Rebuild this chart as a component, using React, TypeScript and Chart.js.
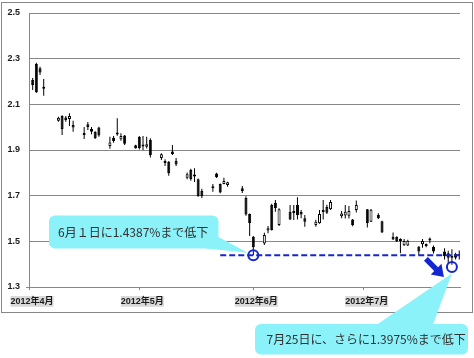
import React, { useEffect, useRef } from 'react';
import { Chart, registerables } from 'chart.js';

Chart.register(...registerables);

// ---- data ----
const DATES = [
  '4/2', '4/3', '4/4', '4/5',
  '4/9', '4/10', '4/11', '4/12', '4/13',
  '4/16', '4/17', '4/18', '4/19', '4/20',
  '4/23', '4/24', '4/25', '4/26', '4/27',
  '4/30', '5/1', '5/2', '5/3', '5/4',
  '5/7', '5/8', '5/9', '5/10', '5/11',
  '5/14', '5/15', '5/16', '5/17', '5/18',
  '5/21', '5/22', '5/23', '5/24', '5/25',
  '5/29', '5/30', '5/31', '6/1',
  '6/4', '6/5', '6/6', '6/7', '6/8',
  '6/11', '6/12', '6/13', '6/14', '6/15',
  '6/18', '6/19', '6/20', '6/21', '6/22',
  '6/25', '6/26', '6/27', '6/28', '6/29',
  '7/2', '7/3', '7/5', '7/6',
  '7/9', '7/10', '7/11', '7/12', '7/13',
  '7/16', '7/17', '7/18', '7/19', '7/20',
  '7/23', '7/24', '7/25', '7/26', '7/27',
];
const OPEN = [
  2.207, 2.277, 2.258, 2.172,
  2.028, 2.049, 2.042, 2.036, 2.009,
  1.974, 2.013, 1.992, 1.980, 1.998,
  1.918, 1.954, 1.973, 1.947, 1.964,
  1.921, 1.957, 1.920, 1.914, 1.944,
  1.865, 1.850, 1.849, 1.893, 1.853,
  1.779, 1.812, 1.790, 1.772, 1.720,
  1.732, 1.797, 1.751, 1.751, 1.747,
  1.732, 1.690, 1.620, 1.520,
  1.491, 1.547, 1.659, 1.669, 1.572,
  1.630, 1.627, 1.659, 1.628, 1.601,
  1.572, 1.579, 1.633, 1.650, 1.640,
  1.610, 1.613, 1.612, 1.596, 1.637,
  1.640, 1.586, 1.615, 1.588,
  1.520, 1.520, 1.508, 1.483, 1.482,
  1.477, 1.487, 1.486, 1.507, 1.475,
  1.455, 1.448, 1.434, 1.445, 1.440,
];
const HIGH = [
  2.215, 2.282, 2.265, 2.211,
  2.046, 2.052, 2.049, 2.061, 2.028,
  2.001, 2.023, 2.001, 1.982, 2.002,
  1.958, 1.961, 2.039, 1.973, 1.966,
  1.923, 1.961, 1.961, 1.958, 1.951,
  1.886, 1.859, 1.852, 1.922, 1.865,
  1.801, 1.818, 1.820, 1.775, 1.730,
  1.751, 1.800, 1.753, 1.779, 1.761,
  1.742, 1.697, 1.622, 1.523,
  1.538, 1.567, 1.665, 1.681, 1.645,
  1.659, 1.659, 1.693, 1.637, 1.615,
  1.595, 1.637, 1.681, 1.660, 1.681,
  1.633, 1.659, 1.655, 1.598, 1.679,
  1.642, 1.642, 1.623, 1.590,
  1.539, 1.522, 1.513, 1.510, 1.507,
  1.479, 1.510, 1.490, 1.517, 1.482,
  1.470, 1.459, 1.465, 1.450, 1.460,
];
const LOW = [
  2.163, 2.150, 2.228, 2.138,
  2.024, 1.966, 2.024, 2.005, 1.980,
  1.948, 1.988, 1.969, 1.948, 1.958,
  1.906, 1.932, 1.962, 1.941, 1.922,
  1.906, 1.902, 1.900, 1.907, 1.867,
  1.856, 1.830, 1.787, 1.878, 1.830,
  1.772, 1.765, 1.760, 1.695, 1.690,
  1.717, 1.777, 1.711, 1.750, 1.739,
  1.712, 1.612, 1.523, 1.4387,
  1.484, 1.535, 1.547, 1.630, 1.567,
  1.593, 1.593, 1.596, 1.601, 1.564,
  1.564, 1.577, 1.596, 1.620, 1.637,
  1.601, 1.600, 1.600, 1.566, 1.626,
  1.561, 1.585, 1.598, 1.537,
  1.506, 1.497, 1.448, 1.480, 1.480,
  1.440, 1.472, 1.474, 1.492, 1.447,
  1.420, 1.405, 1.3975, 1.420, 1.420,
];
const CLOSE = [
  2.185, 2.154, 2.239, 2.168,
  2.041, 1.992, 2.031, 2.049, 1.998,
  1.966, 2.001, 1.980, 1.951, 1.963,
  1.933, 1.939, 1.968, 1.961, 1.927,
  1.908, 1.909, 1.915, 1.925, 1.878,
  1.881, 1.843, 1.798, 1.882, 1.836,
  1.794, 1.773, 1.784, 1.697, 1.697,
  1.739, 1.781, 1.714, 1.764, 1.759,
  1.720, 1.617, 1.580, 1.474,
  1.528, 1.557, 1.550, 1.645, 1.640,
  1.596, 1.624, 1.615, 1.618, 1.586,
  1.586, 1.620, 1.628, 1.625, 1.672,
  1.622, 1.630, 1.633, 1.570, 1.659,
  1.580, 1.638, 1.601, 1.539,
  1.508, 1.499, 1.502, 1.501, 1.503,
  1.455, 1.501, 1.480, 1.504, 1.456,
  1.436, 1.428, 1.428, 1.428, 1.436,
];

const X_TICK_DAYS = [0, 30, 61, 91];
const X_TICK_LABELS = ['2012年4月', '2012年5月', '2012年6月', '2012年7月'];
const X_MIN = 0;
const X_MAX = 117.2;
const Y_MIN = 1.3;
const Y_MAX = 2.5;
const Y_STEP = 0.2;

const LOW_LINE_VALUE = 1.4387;
const LOW_LINE_FROM_DAY = 52;
const MARK_DATES = ['6/1', '7/25'];
const MARK_VALUES = [1.4387, 1.388];
const NOTE1 = '6月１日に1.4387%まで低下';
const NOTE2 = '7月25日に、さらに1.3975%まで低下';

// ---- helpers ----
const dayIndex = (s: string) => {
  const [m, d] = s.split('/').map(Number);
  return (Date.UTC(2012, m - 1, d) - Date.UTC(2012, 3, 1)) / 86400000;
};

const BLUE = '#1426d0';
const CYAN = '#8cf2fa';
const GRAY = '#878787';
const TICK_FONT = { size: 9, weight: 'bold' as const, family: '"Liberation Sans", "Noto Sans CJK JP", sans-serif' };

function roundRectPath(c: CanvasRenderingContext2D, x: number, y: number, w: number, h: number, r: number) {
  c.moveTo(x + r, y);
  c.lineTo(x + w - r, y);
  c.arcTo(x + w, y, x + w, y + r, r);
  c.lineTo(x + w, y + h - r);
  c.arcTo(x + w, y + h, x + w - r, y + h, r);
  c.lineTo(x + r, y + h);
  c.arcTo(x, y + h, x, y + h - r, r);
  c.lineTo(x, y + r);
  c.arcTo(x, y, x + r, y, r);
  c.closePath();
}

function drawCallout(
  c: CanvasRenderingContext2D,
  box: { x: number; y: number; w: number; h: number },
  tail: number[][],
  text: string,
  textX: number
) {
  c.save();
  c.fillStyle = CYAN;
  c.beginPath();
  roundRectPath(c, box.x, box.y, box.w, box.h, 6);
  c.fill();
  c.beginPath();
  c.moveTo(tail[0][0], tail[0][1]);
  c.lineTo(tail[1][0], tail[1][1]);
  c.lineTo(tail[2][0], tail[2][1]);
  c.closePath();
  c.fill();
  c.fillStyle = '#303030';
  c.font = '12px "Noto Sans CJK JP", sans-serif';
  c.textBaseline = 'middle';
  c.textAlign = 'left';
  c.fillText(text, textX, box.y + box.h / 2 + 0.5);
  c.restore();
}

function drawArrow(c: CanvasRenderingContext2D, x1: number, y1: number, x2: number, y2: number) {
  const ang = Math.atan2(y2 - y1, x2 - x1);
  const len = Math.hypot(x2 - x1, y2 - y1);
  const headLen = 11;
  const headW = 15;
  const shaftW = 5.5;
  c.save();
  c.translate(x1, y1);
  c.rotate(ang);
  c.beginPath();
  c.moveTo(0, -shaftW / 2);
  c.lineTo(len - headLen, -shaftW / 2);
  c.lineTo(len - headLen, -headW / 2);
  c.lineTo(len, 0);
  c.lineTo(len - headLen, headW / 2);
  c.lineTo(len - headLen, shaftW / 2);
  c.lineTo(0, shaftW / 2);
  c.closePath();
  c.fillStyle = BLUE;
  c.fill();
  c.restore();
}

const overlayPlugin = {
  id: 'overlay',
  beforeDraw(chart: any) {
    const c = chart.ctx as CanvasRenderingContext2D;
    c.save();
    c.fillStyle = '#ffffff';
    c.fillRect(0, 0, chart.width, chart.height);
    c.strokeStyle = GRAY;
    c.lineWidth = 1;
    c.strokeRect(1.5, 2.5, 471, 310);
    c.restore();
  },
  afterDraw(chart: any) {
    const c = chart.ctx as CanvasRenderingContext2D;
    const pts = chart.getDatasetMeta(3).data;
    const p1 = pts[0];
    const p2 = pts[1];
    drawCallout(c, { x: 49, y: 215.5, w: 169.5, h: 33 }, [[206, 248.5], [218.5, 237], [p1.x - 5.5, p1.y - 2.5]], NOTE1, 58);
    drawCallout(c, { x: 255, y: 324, w: 213, h: 30.5 }, [[377, 324.5], [433, 324.5], [p2.x, p2.y + 6.5]], NOTE2, 266.5);
    drawArrow(c, p2.x - 26, p2.y - 8, p2.x - 8, p2.y + 10);
  },
};

export default function App() {
  const ref = useRef<HTMLCanvasElement>(null);

  useEffect(() => {
    document.body.style.margin = '0';
    const xs = DATES.map(dayIndex);
    const chart = new Chart(ref.current as HTMLCanvasElement, {
      type: 'bar',
      data: {
        datasets: [
          {
            type: 'bar',
            label: 'wick',
            data: xs.map((x, i) => ({ x, y: [LOW[i], HIGH[i]] })) as any,
            backgroundColor: '#000000',
            borderWidth: 0,
            barThickness: 1,
            grouped: false,
            inflateAmount: 0,
            order: 3,
          } as any,
          {
            type: 'bar',
            label: 'body',
            data: xs.map((x, i) => ({ x, y: [OPEN[i], CLOSE[i]] })) as any,
            backgroundColor: OPEN.map((o, i) => (CLOSE[i] > o ? '#ffffff' : '#000000')),
            borderColor: '#000000',
            borderWidth: 1,
            borderSkipped: false,
            barThickness: 3,
            minBarLength: 2,
            grouped: false,
            inflateAmount: 0,
            order: 2,
          } as any,
          {
            type: 'line',
            label: 'low line',
            data: [
              { x: LOW_LINE_FROM_DAY, y: LOW_LINE_VALUE },
              { x: X_MAX, y: LOW_LINE_VALUE },
            ],
            borderColor: BLUE,
            borderWidth: 2,
            borderDash: [6, 3],
            pointRadius: 0,
            order: 1,
          } as any,
          {
            type: 'line',
            label: 'marks',
            data: MARK_DATES.map((d, i) => ({ x: dayIndex(d), y: MARK_VALUES[i] })),
            showLine: false,
            pointStyle: 'circle',
            pointRadius: 5,
            pointBorderWidth: 2,
            pointBorderColor: BLUE,
            pointBackgroundColor: 'rgba(0,0,0,0)',
            clip: false,
            order: 0,
          } as any,
        ],
      },
      options: {
        responsive: false,
        devicePixelRatio: 1,
        animation: false,
        events: [],
        layout: { padding: { left: 0, top: 13, right: 14, bottom: 0 } },
        plugins: {
          legend: { display: false },
          tooltip: { enabled: false },
          title: { display: false },
        },
        scales: {
          x: {
            type: 'linear',
            position: 'bottom',
            min: X_MIN,
            max: X_MAX,
            offset: false,
            grid: {
              display: true,
              drawOnChartArea: false,
              drawTicks: true,
              tickLength: 3,
              color: GRAY,
              offset: false,
            },
            border: { display: true, color: GRAY, width: 1 },
            afterBuildTicks: (s: any) => {
              s.ticks = X_TICK_DAYS.map((v) => ({ value: v }));
            },
            afterFit: (s: any) => {
              s.height = 71;
            },
            ticks: {
              autoSkip: false,
              maxRotation: 0,
              minRotation: 0,
              padding: 6,
              labelOffset: 3,
              font: TICK_FONT,
              color: '#1a1a1a',
              showLabelBackdrop: true,
              backdropColor: '#d9d9d9',
              backdropPadding: 0,
              callback: (v: any) => {
                const i = X_TICK_DAYS.indexOf(Number(v));
                return i >= 0 ? X_TICK_LABELS[i] : '';
              },
            },
          } as any,
          y: {
            type: 'linear',
            min: Y_MIN,
            max: Y_MAX,
            beginAtZero: false,
            grid: {
              color: GRAY,
              tickLength: 3,
              tickColor: (ctx: any) => (ctx.index === 0 ? GRAY : 'rgba(0,0,0,0)'),
            },
            border: { display: true, color: GRAY, width: 1 },
            afterFit: (s: any) => {
              s.width = 29;
            },
            ticks: {
              stepSize: Y_STEP,
              padding: 6,
              font: TICK_FONT,
              color: '#1a1a1a',
              callback: (v: any) => Number(v).toFixed(1),
            },
          } as any,
        },
      },
      plugins: [overlayPlugin],
    } as any);
    return () => chart.destroy();
  }, []);

  return (
    <div style={{ position: 'absolute', left: 0, top: 0, width: 474, height: 358 }}>
      <canvas ref={ref} width={474} height={358} style={{ display: 'block', width: 474, height: 358 }} />
    </div>
  );
}
